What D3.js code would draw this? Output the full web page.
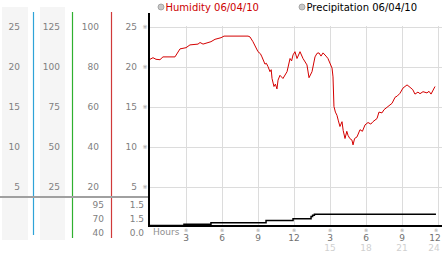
<!DOCTYPE html>
<html>
<head>
<meta charset="utf-8">
<script src="https://cdn.jsdelivr.net/npm/d3@7"></script>
<style>
  body { margin: 0; background: #fff; }
  svg { display: block; font-family: "DejaVu Sans", Verdana, sans-serif; }
</style>
</head>
<body>
<div class="container"></div>
<script>
// humidity trace (hours, value)
var humHours = [0, 0.25, 0.5, 0.83, 1.08, 2.08, 2.5, 3.0, 3.33, 4.0, 4.17, 4.42, 5.08, 5.42, 5.92, 6.17,
  8.17, 8.33, 8.58, 9.0, 9.2, 9.33, 9.58, 9.7, 9.83, 10.0, 10.1, 10.17, 10.33, 10.45, 10.58, 10.67, 10.83, 11.08, 11.42, 11.67,
  11.8, 11.92, 12.08, 12.25, 12.5, 12.75, 13.08, 13.25, 13.5, 13.75, 13.92, 14.08, 14.25, 14.42, 14.67, 14.83,
  15.17, 15.25, 15.33, 15.45, 15.58, 15.7, 15.83, 16.0, 16.1, 16.25, 16.4, 16.5, 16.65, 16.83, 16.92, 17.05, 17.25, 17.5, 17.7, 17.92, 18.17, 18.4, 18.58,
  18.92, 19.08, 19.33, 19.5, 19.75, 20.17, 20.42, 20.6, 20.83, 21.08, 21.42, 21.67, 21.9, 22.08, 22.33, 22.5, 22.75, 23.08, 23.25, 23.42, 23.75];
var humValues = [20.9, 21.1, 20.9, 20.85, 21.2, 21.2, 22.2, 22.35, 22.7, 22.8, 23.0, 22.8, 23.1, 23.4, 23.6, 23.8,
  23.8, 23.7, 23.1, 21.85, 21.6, 21.2, 20.3, 20.4, 20.0, 19.35, 19.6, 18.5, 17.5, 17.8, 17.2, 18.3, 18.9, 18.5, 19.35, 21.0,
  20.7, 21.45, 21.85, 21.0, 21.85, 21.0, 20.2, 18.6, 19.35, 21.2, 21.65, 21.7, 21.3, 21.7, 21.3, 21.0,
  19.8, 18.7, 15.0, 14.3, 13.9, 13.2, 12.5, 13.1, 12.0, 11.0, 11.9, 11.4, 11.0, 10.8, 10.2, 11.0, 11.2, 12.1, 11.9, 12.7, 13.0, 12.8, 13.1,
  13.5, 14.3, 14.2, 14.6, 14.9, 15.4, 16.15, 16.3, 16.65, 17.3, 17.7, 17.4, 17.1, 16.55, 16.8, 16.6, 16.85, 16.7, 16.9, 16.55, 17.5];

// precipitation (step series)
var rainHours = [0, 2.83, 5.08, 9.67, 11.92, 13.42, 13.55, 13.7, 23.83];
var rainValues = [0, 0.15, 0.3, 0.55, 0.75, 1.0, 1.15, 1.25, 1.25];

// axis labels
var humTicks = [25, 20, 15, 10, 5];
var col1Ticks = ["25", "20", "15", "10", "5"];
var col2Ticks = ["125", "100", "75", "50", "25"];
var col3Ticks = ["100", "80", "60", "40", "20"];
var col3Low = ["95", "70", "40"];
var col4Low = ["1.5", "1.5", "0.0"];
var hourTicks = [3, 6, 9, 12, 15, 18, 21, 24];
var hourLabels = ["3", "6", "9", "12", "3", "6", "9", "12"];
var hourLabels2 = ["", "", "", "", "15", "18", "21", "24"];

var W = 442, H = 253;

var svg = d3.select(".container").append("svg")
  .attr("width", W).attr("height", H);

var x = d3.scaleLinear().domain([0, 24]).range([150, 438]);
var y = d3.scaleLinear().domain([0, 25]).range([226.5, 26.5]);
var yRain = d3.scaleLinear().domain([0, 3]).range([225.5, 198.5]);
var yLow = d3.scalePoint().domain([0, 1, 2]).range([204.5, 232.5]);

// side column backgrounds
svg.append("rect").attr("x", 2).attr("y", 7).attr("width", 26).attr("height", 233).attr("fill", "#f5f5f5");
svg.append("rect").attr("x", 40).attr("y", 7).attr("width", 25).attr("height", 233).attr("fill", "#f5f5f5");

// grid
svg.append("g").selectAll("line").data(humTicks).enter().append("line")
  .attr("x1", 150).attr("x2", W)
  .attr("y1", function(d) { return Math.round(y(d)) + 0.5; })
  .attr("y2", function(d) { return Math.round(y(d)) + 0.5; })
  .attr("stroke", "#dcdcdc");
svg.append("g").selectAll("line").data(hourTicks).enter().append("line")
  .attr("x1", function(d) { return Math.round(x(d)) + 0.5; })
  .attr("x2", function(d) { return Math.round(x(d)) + 0.5; })
  .attr("y1", 26).attr("y2", 226)
  .attr("stroke", "#dcdcdc");

// column separator lines
var sepColors = [[33.5, "#2ea3d8", 235], [72.5, "#2fb02f", 238], [111.5, "#d03a3a", 238]];
svg.append("g").selectAll("line").data(sepColors).enter().append("line")
  .attr("x1", function(d) { return d[0]; }).attr("x2", function(d) { return d[0]; })
  .attr("y1", 12).attr("y2", function(d) { return d[2]; })
  .attr("stroke", function(d) { return d[1]; }).attr("stroke-width", 1.2);

// horizontal divider
svg.append("line").attr("x1", 0).attr("x2", 149).attr("y1", 197).attr("y2", 197)
  .attr("stroke", "#a0a0a0").attr("stroke-width", 2);

// tick labels in columns
function column(labels, xr) {
  svg.append("g").selectAll("text").data(labels).enter().append("text")
    .attr("x", xr).attr("y", function(d, i) { return y(humTicks[i]); })
    .attr("dy", "0.35em").attr("text-anchor", "end")
    .attr("font-size", 9).attr("fill", "#808080")
    .text(function(d) { return d; });
}
column(col1Ticks, 20);
column(col2Ticks, 60);
column(col3Ticks, 99);
column(humTicks, 137);

function lowColumn(labels, xr) {
  svg.append("g").selectAll("text").data(labels).enter().append("text")
    .attr("x", xr).attr("y", function(d, i) { return yLow(i); })
    .attr("dy", "0.35em").attr("text-anchor", "end")
    .attr("font-size", 9).attr("fill", "#808080")
    .text(function(d) { return d; });
}
lowColumn(col3Low, 104);
lowColumn(col4Low, 144);

// small tick marks
svg.append("g").selectAll("text").data(humTicks).enter().append("text")
  .attr("x", 145).attr("y", function(d) { return y(d); })
  .attr("dy", "0.35em").attr("text-anchor", "middle")
  .attr("font-size", 6).attr("fill", "#999").text("\u203B");
svg.append("g").selectAll("text").data(hourTicks).enter().append("text")
  .attr("x", function(d) { return Math.min(x(d), 436); }).attr("y", 231.5)
  .attr("text-anchor", "middle")
  .attr("font-size", 5).attr("fill", "#999").text("\u203B");

// hour labels
svg.append("g").selectAll("text").data(hourTicks).enter().append("text")
  .attr("x", function(d) { return Math.min(x(d), 435); }).attr("y", 237.5)
  .attr("dy", "0.35em").attr("text-anchor", "middle")
  .attr("font-size", 9).attr("fill", "#707070")
  .text(function(d, i) { return hourLabels[i]; });
svg.append("g").selectAll("text").data(hourTicks).enter().append("text")
  .attr("x", function(d) { return Math.min(x(d), 434); }).attr("y", 247.5)
  .attr("dy", "0.35em").attr("text-anchor", "middle")
  .attr("font-size", 9).attr("fill", "#d0d0d0")
  .text(function(d, i) { return hourLabels2[i]; });
svg.append("text").attr("x", 153).attr("y", 232).attr("dy", "0.35em")
  .attr("font-size", 9).attr("fill", "#909090").text("Hours");

// humidity line
var humLine = d3.line()
  .x(function(d, i) { return x(humHours[i]); })
  .y(function(d) { return y(d); });
svg.append("path").attr("d", humLine(humValues))
  .attr("fill", "none").attr("stroke", "#d40000").attr("stroke-width", 1);

// precipitation steps
var rainLine = d3.line().curve(d3.curveStepAfter)
  .x(function(d, i) { return x(rainHours[i]); })
  .y(function(d) { return yRain(d); });
svg.append("path").attr("d", rainLine(rainValues))
  .attr("fill", "none").attr("stroke", "#000").attr("stroke-width", 1.5);

// axes
svg.append("line").attr("x1", 149).attr("x2", 149).attr("y1", 13).attr("y2", 227)
  .attr("stroke", "#000").attr("stroke-width", 2);
svg.append("line").attr("x1", 148).attr("x2", W).attr("y1", 226).attr("y2", 226)
  .attr("stroke", "#000").attr("stroke-width", 2);

// legend
var legend = [["Humidity 06/04/10", 161, "#cc0000"], ["Precipitation 06/04/10", 302, "#000"]];
var lg = svg.append("g").selectAll("g").data(legend).enter().append("g");
lg.append("circle").attr("cx", function(d) { return d[1]; }).attr("cy", 7).attr("r", 3)
  .attr("fill", "#c8c8c8").attr("stroke", "#999").attr("stroke-width", 0.8);
lg.append("text").attr("x", function(d) { return d[1] + 4.5; }).attr("y", 11)
  .attr("font-size", 10).attr("fill", function(d) { return d[2]; })
  .text(function(d) { return d[0]; });
</script>
</body>
</html>
